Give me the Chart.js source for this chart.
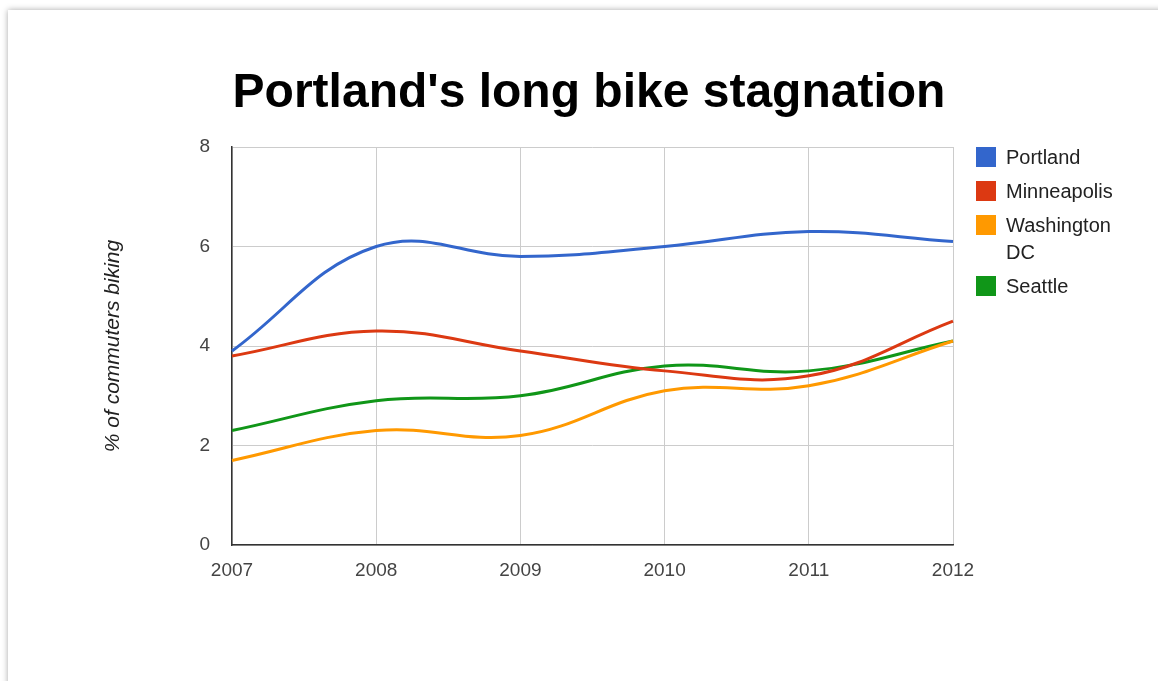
<!DOCTYPE html>
<html>
<head>
<meta charset="utf-8">
<script src="https://cdn.jsdelivr.net/npm/chart.js@4"></script>
<style>
    html, body { margin: 0; padding: 0; background: #fff; overflow: hidden; }
    .card {
        position: absolute; left: 8px; top: 10px; width: 1200px; height: 720px;
        background: #fff; box-shadow: 0 0 6px rgba(0, 0, 0, 0.35);
    }
    #wrap { position: absolute; left: 0; top: 0; width: 1158px; height: 681px; }
</style>
</head>
<body>
<div class="card"></div>
<div id="wrap"><canvas id="bikeChart"></canvas></div>
<script>
const years = ['2007', '2008', '2009', '2010', '2011', '2012'];
const portland = [3.9, 6.0, 5.8, 6.0, 6.3, 6.1];
const minneapolis = [3.8, 4.3, 3.9, 3.5, 3.4, 4.5];
const washington = [1.7, 2.3, 2.2, 3.1, 3.2, 4.1];
const seattle = [2.3, 2.9, 3.0, 3.6, 3.5, 4.1];
const yTicks = [0, 2, 4, 6, 8];

const seriesNames = ['Portland', 'Minneapolis', 'Washington DC', 'Seattle'];
const seriesColors = ['#3366cc', '#dc3912', '#ff9900', '#109618'];
const seriesValues = [portland, minneapolis, washington, seattle];

const FONT = 'Arial, "Liberation Sans", sans-serif';

// title + legend drawn by hand, google charts style
const titleAndLegend = {
    id: 'titleAndLegend',
    afterDraw(chart) {
        const ctx = chart.ctx;
        ctx.save();
        ctx.fillStyle = '#000';
        ctx.font = 'bold 48px ' + FONT;
        ctx.textAlign = 'center';
        ctx.textBaseline = 'alphabetic';
        ctx.fillText("Portland's long bike stagnation", 589, 107);

        ctx.font = '20px ' + FONT;
        ctx.textAlign = 'left';
        ctx.textBaseline = 'middle';
        let y = 157;
        chart.data.datasets.forEach(ds => {
            ctx.fillStyle = ds.borderColor;
            ctx.fillRect(976, y - 10, 20, 20);
            ctx.fillStyle = '#222';
            const lines = ds.label === 'Washington DC' ? ['Washington', 'DC'] : [ds.label];
            lines.forEach((line, i) => ctx.fillText(line, 1006, y + 1 + i * 27));
            y += 34 + (lines.length - 1) * 27;
        });
        ctx.restore();
    }
};

new Chart(document.getElementById('bikeChart'), {
    type: 'line',
    data: {
        labels: years,
        datasets: seriesNames.map((name, i) => ({
            label: name,
            data: seriesValues[i],
            borderColor: seriesColors[i],
            backgroundColor: seriesColors[i],
            borderWidth: 3,
            pointRadius: 0,
            tension: 0.4,
            fill: false
        }))
    },
    options: {
        responsive: true,
        maintainAspectRatio: false,
        animation: false,
        layout: { padding: { left: 0, right: 205, top: 147, bottom: 76 } },
        plugins: {
            legend: { display: false },
            title: { display: false },
            tooltip: { enabled: false }
        },
        scales: {
            x: {
                offset: false,
                grid: { color: '#cccccc', drawTicks: false },
                border: { color: '#333333', width: 1.5 },
                ticks: {
                    color: '#444',
                    padding: 14,
                    maxRotation: 0,
                    font: { family: FONT, size: 19 }
                },
                afterFit(scale) { scale.height = 60; }
            },
            y: {
                min: 0,
                max: 8,
                afterBuildTicks(scale) { scale.ticks = yTicks.map(v => ({ value: v })); },
                grid: { color: '#cccccc', drawTicks: false },
                border: { color: '#333333', width: 1.5 },
                ticks: {
                    color: '#444',
                    padding: 22,
                    font: { family: FONT, size: 19 }
                },
                title: {
                    display: true,
                    text: '% of commuters biking',
                    color: '#222',
                    padding: { top: 101, bottom: 0 },
                    font: { family: FONT, size: 21, style: 'italic' }
                },
                afterFit(scale) { scale.width = 232; }
            }
        }
    },
    plugins: [titleAndLegend]
});
</script>
</body>
</html>
